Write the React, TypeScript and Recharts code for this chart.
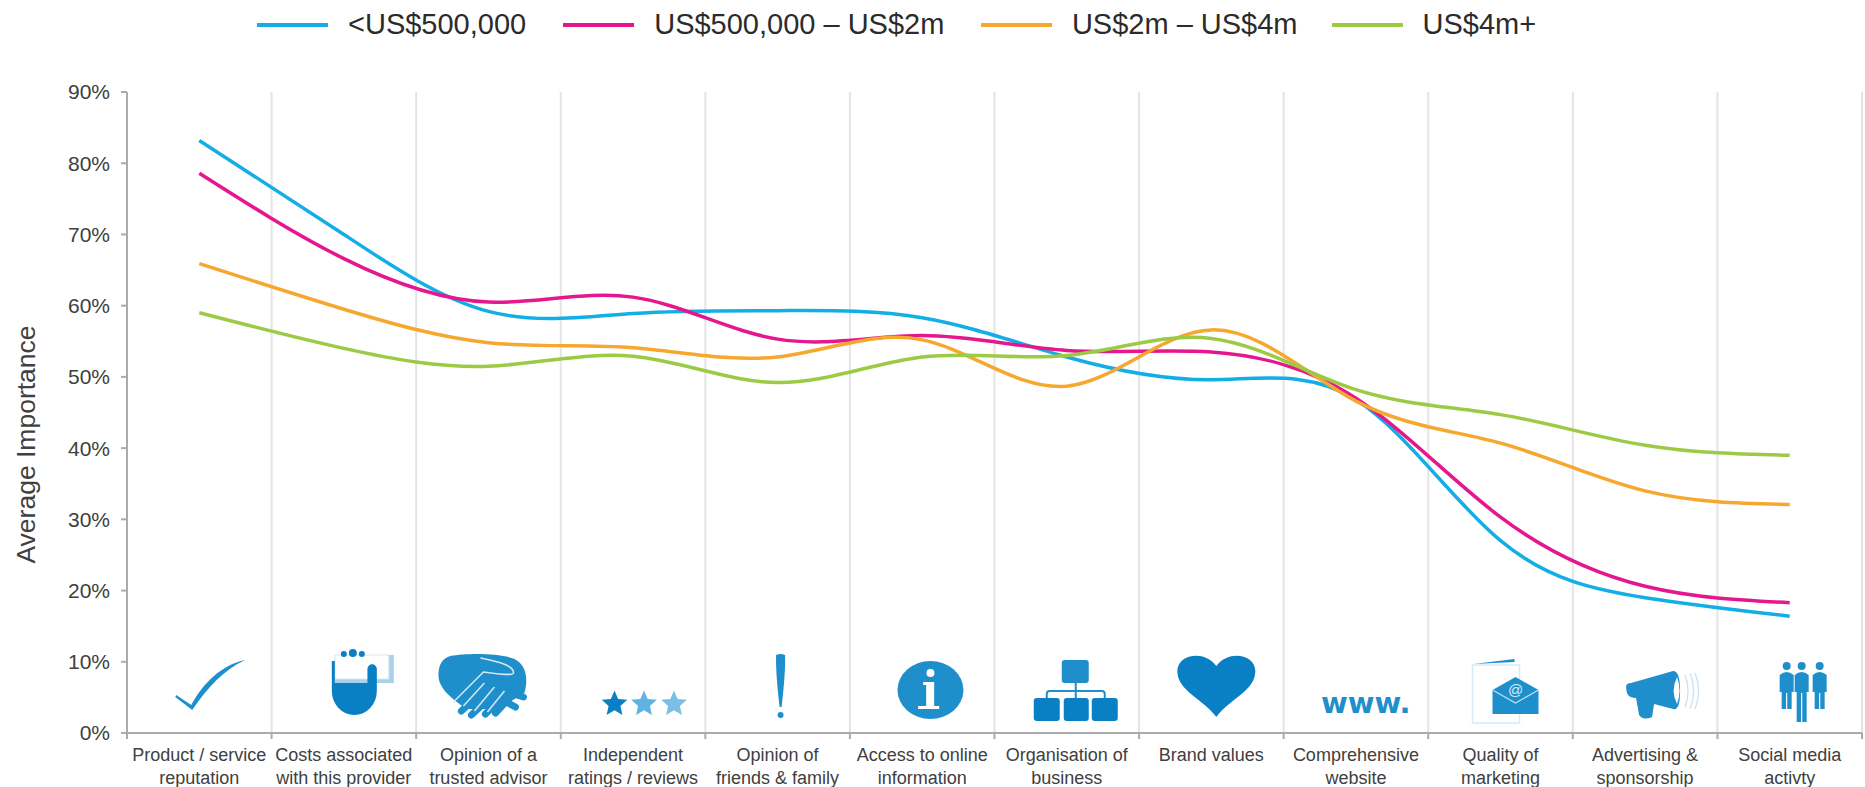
import { LineChart, Line, XAxis, YAxis, CartesianGrid, Legend } from 'recharts';

const categoryLabels = [
  ['Product / service', 'reputation'],
  ['Costs associated', 'with this provider'],
  ['Opinion of a', 'trusted advisor'],
  ['Independent', 'ratings / reviews'],
  ['Opinion of', 'friends & family'],
  ['Access to online', 'information'],
  ['Organisation of', 'business'],
  ['Brand values'],
  ['Comprehensive', 'website'],
  ['Quality of', 'marketing'],
  ['Advertising &', 'sponsorship'],
  ['Social media', 'activty'],
];

const under500k = [83.2, 70, 59.2, 58.9, 59.3, 58.3, 52.8, 49.6, 46.8, 27, 19, 16.4];
const to2m = [78.6, 66.6, 60.5, 61.2, 55.3, 55.8, 53.7, 53.5, 47, 30.3, 20.6, 18.3];
const to4m = [65.9, 59.5, 54.8, 54.1, 52.8, 55.2, 48.7, 56.6, 46.6, 40.7, 34, 32.1];
const over4m = [59, 54, 51.5, 52.9, 49.2, 52.8, 53, 55.4, 48.2, 44.7, 40.4, 39];

const yTicks = [0, 10, 20, 30, 40, 50, 60, 70, 80, 90];
const xTicks = [0, 1, 2, 3, 4, 5, 6, 7, 8, 9, 10, 11, 12];

const chartData = categoryLabels.map((_, i) => ({
  pos: i + 0.5,
  under500k: under500k[i],
  to2m: to2m[i],
  to4m: to4m[i],
  over4m: over4m[i],
}));

const FONT = '"Liberation Sans", Arial, sans-serif';
const TEXT = '#404040';
const AXIS = '#ABABAB';
const BAND = 144.5;
const ICON = '#1F8FCB';
const ICON_DARK = '#0A80C4';
const ICON_LIGHT = '#5FB2E2';
const LEGEND_GAPS = [37, 36.5, 34, 0];

function star(cx: number, cy: number, r: number) {
  const pts = [];
  for (let i = 0; i < 10; i++) {
    const rad = i % 2 === 0 ? r : r * 0.46;
    const a = -Math.PI / 2 + (i * Math.PI) / 5;
    pts.push(`${cx + rad * Math.cos(a)},${cy + rad * Math.sin(a)}`);
  }
  return pts.join(' ');
}

function Person({ x, tall }: { x: number; tall?: boolean }) {
  const foot = tall ? -11 : -24;
  return (
    <g fill={ICON}>
      <circle cx={x} cy={-67} r={4} />
      <path d={`M${x - 7},-58 Q${x},-64 ${x + 7},-58 V-41 H${x + 5} V${foot} H${x + 0.6} V-40 H${x - 0.6} V${foot} H${x - 5} V-41 H${x - 7} Z`} />
    </g>
  );
}

// icons sit above the axis, origin is the category centre on the axis line
const icons = [
  <path key="check" fill={ICON} d="M-24,-36 L-23,-38 L-8,-28 C4,-50 22,-68 46,-73 C24,-63 8,-45 -7,-23 Z" />,
  <g key="card">
    <rect x={-9} y={-78} width={59} height={28} fill="#A9D2EA" />
    <rect x={-9} y={-78} width={54} height={24} fill="#fff" stroke="#D5E8F4" />
    <path fill={ICON_DARK} d="M-12,-72 V-42 A22.5,24 0 0 0 33,-42 V-64 A4.7,4.7 0 0 0 23.6,-64 V-50 H-9 V-72 Z" />
    <circle cx={0} cy={-79} r={3} fill={ICON_DARK} />
    <circle cx={9} cy={-80} r={4} fill={ICON_DARK} />
    <circle cx={18} cy={-79} r={3} fill={ICON_DARK} />
  </g>,
  <g key="hands">
    <path fill={ICON} d="M-38,-77 C-22,-80 12,-80 26,-74 C38,-68 40,-54 36,-40 L10,-24 L-22,-24 C-36,-34 -50,-44 -50,-58 C-50,-68 -46,-75 -38,-77 Z" />
    <g stroke={ICON} strokeWidth={7} strokeLinecap="round">
      <line x1={-12} y1={-36} x2={-27} y2={-22} />
      <line x1={0} y1={-34} x2={-17} y2={-18} />
      <line x1={12} y1={-34} x2={-3} y2={-19} />
      <line x1={20} y1={-34} x2={7} y2={-20} />
      <line x1={25} y1={-44} x2={32} y2={-50} />
      <line x1={22} y1={-40} x2={35} y2={-36} />
      <line x1={16} y1={-32} x2={27} y2={-26} />
    </g>
    <path fill="none" stroke="#CFE6F4" strokeWidth={1.6} d="M-8,-75 C6,-72 26,-68 25,-60 C24,-57 10,-59 -5,-61 L-35,-31 M-4,-50 L-25,-27 M6,-46 L-14,-22 M16,-42 L-1,-21" />
  </g>,
  <g key="stars">
    <polygon points={star(-18.5, -29, 13.5)} fill={ICON_DARK} />
    <polygon points={star(11, -29, 13.5)} fill={ICON_LIGHT} />
    <polygon points={star(41, -29, 13.5)} fill="#79BFE6" />
  </g>,
  <g key="bang" fill={ICON}>
    <path d="M-1.5,-78 Q3,-80 7.5,-78 Q8,-60 4,-26 H2 Q-2,-60 -1.5,-78 Z" />
    <circle cx={3} cy={-18} r={3} />
  </g>,
  <g key="info">
    <ellipse cx={8.3} cy={-43} rx={33} ry={29} fill={ICON} />
    <circle cx={8.3} cy={-60} r={4} fill="#fff" />
    <path fill="#fff" d="M1,-51 H12 V-27 H17 V-24 H-4 V-27 H4 V-48 H1 Z" />
  </g>,
  <g key="org">
    <rect x={-5} y={-73} width={27} height={23} rx={3} fill={ICON} />
    <path fill="none" stroke={ICON} strokeWidth={2} d="M-20,-34 V-39 Q-20,-42 -17,-42 H35 Q38,-42 38,-39 V-34 M9,-50 V-34" />
    <rect x={-33} y={-35} width={26} height={23} rx={3} fill={ICON_DARK} />
    <rect x={-3} y={-35} width={25} height={23} rx={3} fill={ICON_DARK} />
    <rect x={25} y={-35} width={26} height={23} rx={3} fill={ICON_DARK} />
  </g>,
  <path key="heart" fill={ICON_DARK} d="M5,-16 C-8,-34 -34,-42 -34,-62 C-34,-78 -8,-84 5,-67 C18,-84 44,-78 44,-62 C44,-42 18,-34 5,-16 Z" />,
  <text key="www" x={-35} y={-20} fill={ICON} fontFamily="DejaVu Sans" fontWeight={700} fontSize={29}>www.</text>,
  <g key="mail">
    <rect x={-28} y={-68} width={47} height={58} fill="#fff" stroke="#D7EAF6" strokeWidth={1.5} />
    <path fill={ICON} d="M-27,-69 L14,-74 V-71 Z" />
    <path fill={ICON} d="M-8,-43 L15,-56 L38,-43 V-19 H-8 Z" />
    <path fill="none" stroke="#BFE0F2" strokeWidth={1.2} d="M-8,-43 L15,-30 L38,-43" />
    <text x={15} y={-38} textAnchor="middle" fill="#D5EAF6" fontFamily={FONT} fontSize={15}>@</text>
  </g>,
  <g key="horn">
    <path fill={ICON} d="M-19,-46 Q-19,-50 -14,-50 L28,-62 Q35,-62 35,-42 Q35,-22 28,-24 L9,-29 L7,-16 Q-2,-12 -6,-18 L-9,-35 Q-19,-34 -19,-46 Z" />
    <path fill="#fff" d="M32,-56 Q25,-42 32,-29 Q37,-42 32,-56 Z" />
    <path fill="none" stroke="#C4E0F1" strokeWidth={1.2} d="M40,-58 Q46,-42 40,-26 M45,-60 Q52,-42 45,-24 M50,-60 Q57,-42 50,-24" />
  </g>,
  <g key="people">
    <Person x={-3} />
    <Person x={30} />
    <Person x={12} tall />
  </g>,
];

function CategoryTick({ x, y, payload }: any) {
  const i = payload.value;
  if (i >= categoryLabels.length) return null;
  const cx = x + BAND / 2;
  return (
    <g>
      <g transform={`translate(${cx},${y - 8})`}>{icons[i]}</g>
      <text textAnchor="middle" fill={TEXT} fontFamily={FONT} fontSize={18}>
        {categoryLabels[i].map((line, n) => (
          <tspan key={n} x={cx} y={y + 20 + n * 23}>{line}</tspan>
        ))}
      </text>
    </g>
  );
}

function LegendRow({ payload }: any) {
  return (
    <div style={{ display: 'flex', alignItems: 'center', fontFamily: FONT, fontSize: 29, color: '#2b2b2b', whiteSpace: 'nowrap' }}>
      {payload.map((item: any, i: number) => (
        <div key={item.value} style={{ display: 'flex', alignItems: 'center', marginRight: LEGEND_GAPS[i] }}>
          <span style={{ display: 'inline-block', width: 71, height: 4, background: item.color, marginRight: 20 }} />
          <span>{item.value}</span>
        </div>
      ))}
    </div>
  );
}

function AxisTitle({ viewBox }: any) {
  const y = viewBox.y + viewBox.height / 2 + 32;
  return (
    <text transform={`translate(26,${y}) rotate(-90)`} dy="0.35em" textAnchor="middle" fill={TEXT} fontFamily={FONT} fontSize={26.5}>
      Average Importance
    </text>
  );
}

export default function App() {
  return (
    <div style={{ position: 'absolute', left: 0, top: 0, background: '#fff' }}>
      <LineChart
        width={1865}
        height={787}
        data={chartData}
        margin={{ top: 52, right: 3, bottom: 0, left: 0 }}
      >
        <CartesianGrid horizontal={false} stroke="#E4E4E4" strokeWidth={2} />
        <XAxis
          dataKey="pos"
          type="number"
          domain={[0, 12]}
          ticks={xTicks}
          interval={0}
          height={54}
          stroke={AXIS}
          strokeWidth={2}
          tickSize={6}
          tickMargin={2}
          tick={<CategoryTick />}
        />
        <YAxis
          domain={[0, 90]}
          ticks={yTicks}
          interval={0}
          width={127}
          stroke={AXIS}
          strokeWidth={2}
          tickSize={6}
          tickMargin={11}
          tickFormatter={(v) => `${v}%`}
          tick={{ fill: TEXT, fontFamily: FONT, fontSize: 21 }}
          label={<AxisTitle />}
        />
        <Legend
          verticalAlign="top"
          align="left"
          height={40}
          itemSorter={null}
          content={<LegendRow />}
          wrapperStyle={{ left: 257, top: 8, width: 'auto' }}
        />
        <Line name="<US$500,000" dataKey="under500k" type="natural" stroke="#14AEE6" strokeWidth={3.5} dot={false} isAnimationActive={false} />
        <Line name="US$500,000 – US$2m" dataKey="to2m" type="natural" stroke="#E5178F" strokeWidth={3.5} dot={false} isAnimationActive={false} />
        <Line name="US$2m – US$4m" dataKey="to4m" type="natural" stroke="#F6A82E" strokeWidth={3.5} dot={false} isAnimationActive={false} />
        <Line name="US$4m+" dataKey="over4m" type="natural" stroke="#9CCA45" strokeWidth={3.5} dot={false} isAnimationActive={false} />
      </LineChart>
    </div>
  );
}
